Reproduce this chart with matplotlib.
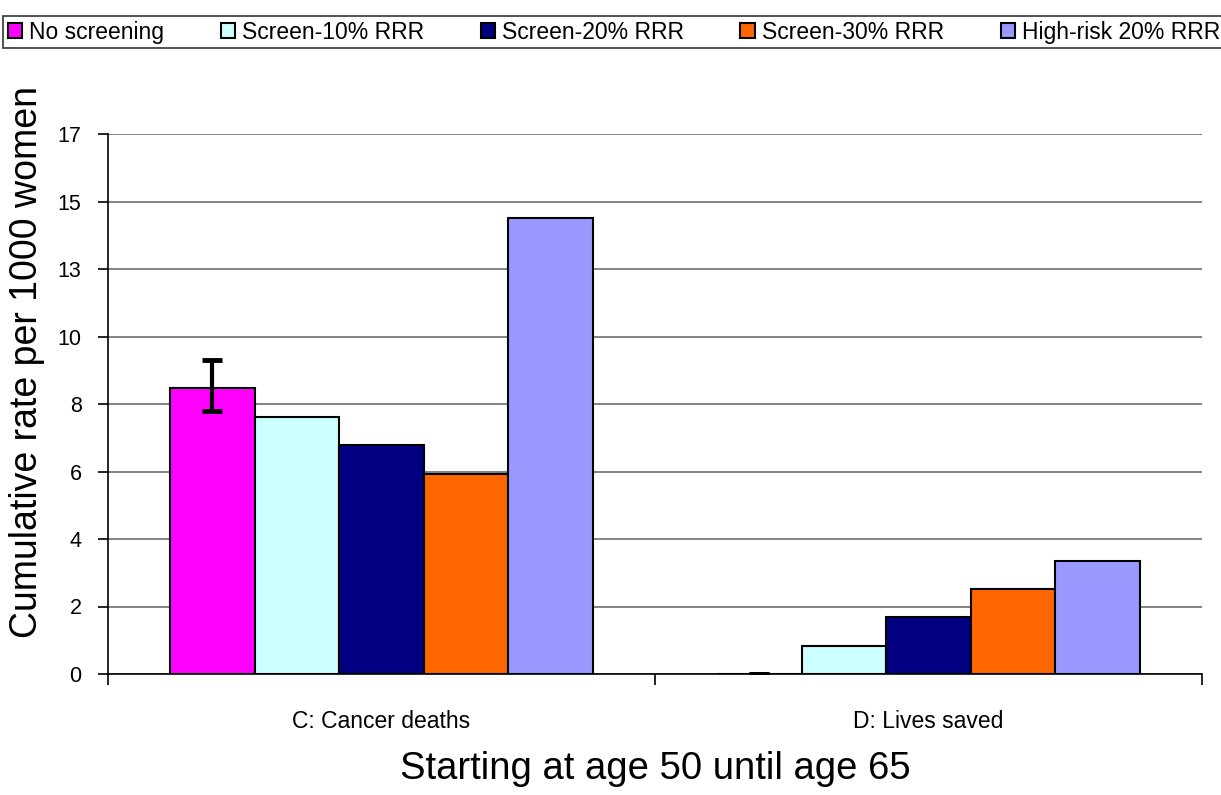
import matplotlib
matplotlib.use("Agg")
import matplotlib.pyplot as plt
import numpy as np

plt.rcParams['font.family'] = ['Liberation Sans', 'DejaVu Sans']

categories = ["C: Cancer deaths", "D: Lives saved"]
series = ["No screening", "Screen-10% RRR", "Screen-20% RRR", "Screen-30% RRR", "High-risk 20% RRR"]
colors = ["#FF00FF", "#CCFFFF", "#000080", "#FF6600", "#9999FF"]
values = [
    [8.90, 0.0],   # No screening
    [8.01, 0.88],  # Screen-10%
    [7.12, 1.77],  # Screen-20%
    [6.22, 2.66],  # Screen-30%
    [14.20, 3.53], # High-risk 20%
]
# error bar for "No screening" (lower, upper)
err_low = [0.72, 0.0]
err_high = [0.87, 0.0]

ytick_vals = [0, 2.1, 4.2, 6.3, 8.4, 10.5, 12.6, 14.7, 16.8]
ytick_labels = ["0", "2", "4", "6", "8", "10", "13", "15", "17"]

fig = plt.figure(figsize=(12.21, 7.95), dpi=100)
ax = fig.add_axes([108/1221, 1-674/795, (1202-108)/1221, (674-134)/795])

x = np.arange(len(categories))
w = 0.1545
n = len(series)
handles = []
for i, (s, c, v) in enumerate(zip(series, colors, values)):
    off = (i - (n - 1) / 2) * w
    b = ax.bar(x + off, v, width=w, color=c, edgecolor='black', linewidth=1.5, label=s, zorder=3)
    handles.append(b)
    if i == 0:
        ax.errorbar(x + off, v, yerr=[err_low, err_high], fmt='none', ecolor='black',
                    elinewidth=3, capsize=7, capthick=3.5, zorder=4)

ax.set_xlim(-0.5, 1.5)
ax.set_ylim(0, 16.8)
ax.set_yticks(ytick_vals)
ax.set_yticklabels(ytick_labels, fontsize=15.5)
ax.yaxis.grid(True, color='#606060', linewidth=1.1, zorder=0)
ax.set_axisbelow(True)

ax.set_xticks([-0.5, 0.5, 1.5])
ax.set_xticklabels([])
ax.set_xticks(x, minor=True)
ax.set_xticklabels(categories, minor=True, fontsize=16.5)
ax.tick_params(axis='x', which='minor', length=0, pad=26)
ax.tick_params(axis='x', which='major', length=8, width=1.2, direction='out')
ax.tick_params(axis='y', length=7, width=1.2, direction='out', pad=12)

for sp in ['top', 'right']:
    ax.spines[sp].set_visible(False)
ax.spines['left'].set_linewidth(1.2)
ax.spines['bottom'].set_linewidth(1.2)

ax.set_ylabel("Cumulative rate per 1000 women", fontsize=27)
ax.yaxis.set_label_coords(-0.058, 0.578)
ax.set_xlabel("Starting at age 50 until age 65", fontsize=27.5, labelpad=13)

leg = fig.legend(handles=handles, labels=series, loc='upper left', bbox_to_anchor=(3/1221, 1-16/795),
                 ncol=5, fontsize=16.5, frameon=True, fancybox=False, edgecolor='black',
                 handlelength=0.65, handleheight=0.65, handletextpad=0.3, columnspacing=2.45,
                 borderpad=0.2, borderaxespad=0)
leg.get_frame().set_linewidth(1.2)

fig.savefig("out.png", dpi=100)
